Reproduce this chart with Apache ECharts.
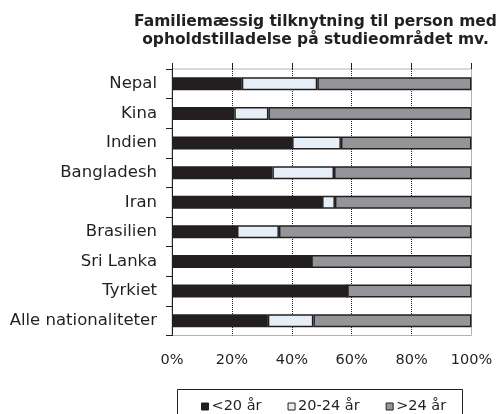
<!DOCTYPE html>
<html>
<head>
<meta charset="utf-8">
<script src="https://cdn.jsdelivr.net/npm/echarts@6/dist/echarts.min.js"></script>
<style>html,body{margin:0;padding:0;background:#fff}#c{width:502px;height:414px}</style>
</head>
<body>
<div id="c"></div>
<script>
const categories = ['Nepal','Kina','Indien','Bangladesh','Iran','Brasilien','Sri Lanka','Tyrkiet','Alle nationaliteter'];
const under20 = [23.3, 20.8, 40.1, 33.5, 50.1, 21.7, 46.5, 58.5, 32.0];
const age20to24 = [25.2, 11.4, 16.3, 20.6, 4.3, 14.0, 0, 0, 15.2];
const over24 = [51.5, 67.8, 43.6, 45.9, 45.6, 64.3, 53.5, 41.5, 52.8];
const seriesNames = ['<20 år', '20-24 år', '>24 år'];
const titleText = 'Familiemæssig tilknytning til person med\nopholdstilladelse på studieområdet mv.';

const dark = '#231f20';
const colors = ['#231f20', '#e6eef7', '#939598'];
const chart = echarts.init(document.getElementById('c'));
function mk(name, data, color) {
  return {
    name, type: 'bar', stack: 'tot', data, barWidth: 13,
    itemStyle: { color, borderColor: dark, borderWidth: 1.5 },
    xAxisIndex: 0, yAxisIndex: 0, animation: false
  };
}
chart.setOption({
  animation: false,
  grid: { left: 172, right: 30.5, top: 69, bottom: 78.5, show: true, borderColor: '#b3b3b3', borderWidth: 1, backgroundColor: 'transparent' },
  xAxis: [{
    type: 'value', min: 0, max: 100, interval: 20, position: 'bottom',
    axisLine: { show: false }, axisTick: { show: false },
    axisLabel: { formatter: '{value}%', color: dark, fontFamily: 'DejaVu Sans', fontSize: 14.5, margin: 17 },
    splitLine: { show: true, showMinLine: false, showMaxLine: false, lineStyle: { color: dark, type: [1, 1], width: 1 } }
  }, {
    type: 'value', min: 0, max: 100, interval: 20, position: 'top',
    axisLine: { show: false },
    axisTick: { show: true, length: 6, lineStyle: { color: dark, width: 1 } },
    axisLabel: { show: false }, splitLine: { show: false }
  }],
  yAxis: {
    type: 'category', data: categories, inverse: true,
    axisLine: { show: true, lineStyle: { color: dark, width: 1 } },
    axisTick: { show: true, length: 6, lineStyle: { color: dark, width: 1 } },
    axisLabel: { color: dark, fontFamily: 'DejaVu Sans', fontSize: 16.5, margin: 15 },
    splitLine: { show: false }
  },
  legend: {
    data: seriesNames, left: 201, top: 399, padding: 0,
    itemWidth: 7, itemHeight: 7, itemGap: 26, icon: 'rect',
    textStyle: { color: dark, fontFamily: 'DejaVu Sans', fontSize: 14.5, padding: [0, 0, 0, -2] },
    itemStyle: { borderColor: dark, borderWidth: 1 }
  },
  graphic: [
    { type: 'rect', shape: { x: 177.5, y: 389.5, width: 285, height: 40 }, style: { fill: 'none', stroke: dark, lineWidth: 1 }, silent: true },
    { type: 'text', x: 315.5, y: 12.5, style: { text: titleText, fill: dark, font: 'bold 15.5px "DejaVu Sans"', textAlign: 'center', textVerticalAlign: 'top', lineHeight: 18 } }
  ],
  series: [
    mk(seriesNames[0], under20, colors[0]),
    mk(seriesNames[1], age20to24, colors[1]),
    mk(seriesNames[2], over24, colors[2])
  ]
});
</script>
</body>
</html>
